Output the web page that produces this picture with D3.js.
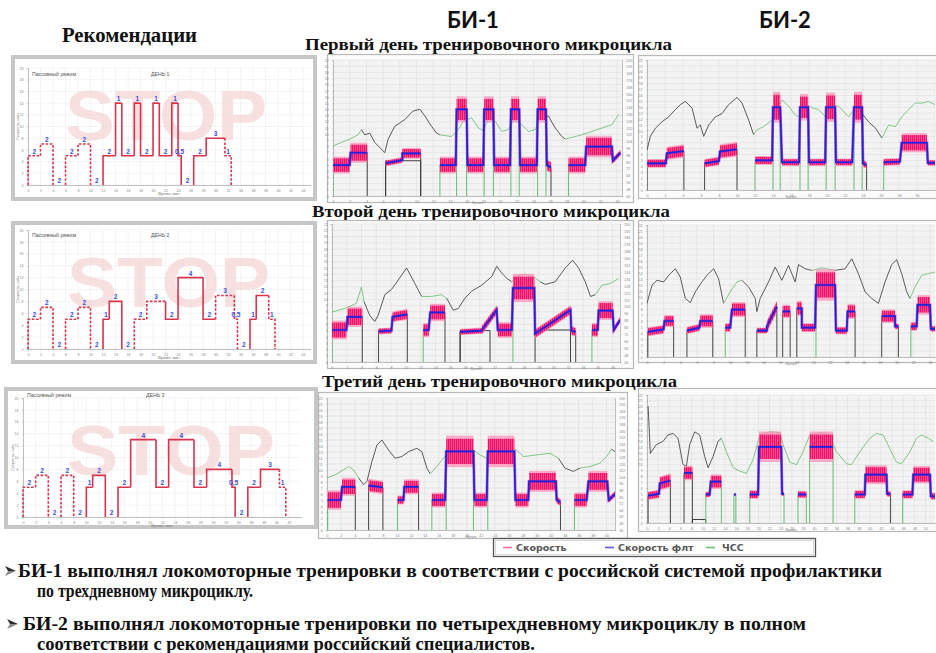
<!DOCTYPE html>
<html><head><meta charset="utf-8">
<script src="https://cdn.jsdelivr.net/npm/d3@7"></script>
<style>body{margin:0;background:#fff}svg{display:block}</style>
</head><body><svg id="c" width="936" height="653"></svg>
<script>
// ---------- Recommended protocol: [start, end (min), speed km/h, duration label, line style d=dashed s=solid] ----------
const recDay1 = [
  [0, 2, 5, '2', 'd'], [2, 4, 7, '2', 'd'], [4, 6, 0, '2', ''],
  [6, 8, 5, '2', 'd'], [8, 10, 7, '2', 'd'], [10, 12, 0, '2', ''],
  [12, 14, 5, '2', 's'], [14, 15, 14, '1', 's'], [15, 17, 5, '2', 's'], [17, 18, 14, '1', 's'],
  [18, 20, 5, '2', 's'], [20, 21, 14, '1', 's'], [21, 23, 5, '2', 's'], [23, 24, 14, '1', 's'],
  [24, 24.5, 5, '0,5', 's'], [24.5, 26.5, 0, '2', ''],
  [26.5, 28.5, 5, '2', 's'], [28.5, 31.5, 8, '3', 's'], [31.5, 32.5, 5, '1', 'd']
];
const recDay2 = [
  [0, 2, 5, '2', 'd'], [2, 4, 7, '2', 'd'], [4, 6, 0, '2', ''],
  [6, 8, 5, '2', 'd'], [8, 10, 7, '2', 'd'], [10, 12, 0, '2', ''],
  [12, 13, 5, '1', 's'], [13, 15, 8, '2', 's'], [15, 17, 0, '2', ''],
  [17, 19, 5, '2', 'd'], [19, 22, 8, '3', 'd'], [22, 24, 5, '2', 's'], [24, 28, 12, '4', 's'],
  [28, 30, 5, '2', 's'], [30, 33, 9, '3', 'd'], [33, 33.5, 5, '0,5', 'd'], [33.5, 35.5, 0, '2', ''],
  [35.5, 36.5, 5, '1', 's'], [36.5, 38.5, 9, '2', 's'], [38.5, 39.5, 5, '1', 'd']
];
const recDay3 = [
  [0, 2, 5, '2', 'd'], [2, 4, 7, '2', 'd'], [4, 6, 0, '2', ''],
  [6, 8, 7, '2', 'd'], [8, 10, 0, '2', ''],
  [10, 11, 5, '1', 's'], [11, 13, 7, '2', 's'], [13, 15, 0, '2', ''],
  [15, 17, 5, '2', 's'], [17, 21, 13, '4', 's'], [21, 23, 5, '2', 's'], [23, 27, 13, '4', 's'],
  [27, 29, 5, '2', 's'], [29, 33, 8, '4', 's'], [33, 33.5, 5, '0,5', 's'], [33.5, 35.5, 0, '2', ''],
  [35.5, 37.5, 5, '2', 's'], [37.5, 40.5, 8, '3', 's'], [40.5, 41.5, 5, '1', 'd']
];

// ---------- Treadmill speed: [t0, t1 (min), v0, v1 (km/h), spread of raw speed, edge at start, edge at end] ----------
const bi1Day1Speed = [
  [0, 2.0, 5.0, 5.0, 1.1, 'g', ''], [2.1, 4.1, 7.0, 7.0, 1.3, '', 'k'],
  [6.3, 8.3, 5.3, 5.8, 0.4, 'k', ''], [8.3, 10.5, 6.9, 6.9, 0.7, '', 'k'],
  [12.8, 14.7, 5.0, 5.0, 1.1, 'g', ''], [14.8, 16.0, 14.0, 14.0, 1.7, 'g', 'g'],
  [16.1, 18.0, 5.0, 5.0, 1.1, '', ''], [18.1, 19.2, 14.0, 14.0, 1.7, 'g', 'g'],
  [19.3, 21.2, 5.0, 5.0, 1.1, '', ''], [21.3, 22.3, 14.0, 14.0, 1.7, 'g', 'g'],
  [22.4, 24.4, 5.0, 5.0, 1.1, '', ''], [24.5, 25.5, 14.0, 14.0, 1.7, 'g', 'g'],
  [25.6, 26.1, 5.0, 4.6, 0.8, '', 'k'],
  [28.2, 30.2, 5.0, 5.0, 1.1, 'g', ''], [30.3, 33.4, 8.0, 8.0, 1.4, '', ''],
  [33.5, 34.4, 5.7, 7.0, 0.4, '', '']
];
const bi1Day1Ref = [[6.3, 10.5, 5.7]];
const bi1Day1Hr = [
  [0, 99, 'g'], [1, 103, 'g'], [2, 107, 'g'], [3, 112, 'g'], [3.4, 118, 'k'], [3.8, 112, 'k'],
  [4.4, 114, 'k'], [5.0, 103, 'k'], [5.8, 95, 'k'], [6.2, 91, 'k'], [6.6, 107, 'k'], [7.4, 122, 'k'],
  [8.6, 130, 'k'], [9.6, 140, 'k'], [10.4, 142, 'k'], [11.0, 134, 'k'], [11.8, 122, 'k'], [12.4, 114, 'k'],
  [12.8, 112, 'g'], [14.2, 110, 'g'], [15.0, 118, 'g'], [15.6, 128, 'g'], [16.6, 132, 'g'], [17.4, 120, 'g'],
  [18.0, 117, 'g'], [18.6, 131, 'g'], [19.4, 128, 'g'], [20.2, 116, 'g'], [21.0, 118, 'g'], [21.6, 130, 'g'],
  [22.6, 124, 'g'], [23.4, 116, 'g'], [24.2, 118, 'g'], [24.8, 132, 'k'], [25.8, 134, 'k'], [26.6, 120, 'k'],
  [27.4, 110, 'k'], [27.8, 107, 'g'], [28.6, 109, 'g'], [29.8, 112, 'g'], [31.0, 116, 'g'], [32.2, 120, 'g'],
  [33.4, 124, 'g'], [34.2, 136, 'g']
];

const bi2Day1Speed = [
  [0, 2.1, 4.5, 4.5, 0.6, 'k', ''], [2.2, 4.1, 6.2, 6.6, 0.9, '', 'k'],
  [6.4, 8.0, 4.5, 4.9, 0.6, 'k', ''], [8.1, 10.0, 6.5, 6.9, 1.0, '', 'k'],
  [12.0, 13.9, 5.0, 5.0, 0.6, 'g', ''], [14.0, 14.8, 14.0, 14.0, 2.1, 'g', 'g'],
  [15.0, 16.9, 4.7, 4.7, 0.5, '', ''], [17.0, 17.9, 14.0, 14.0, 1.8, 'g', 'g'],
  [18.0, 19.8, 4.7, 4.7, 0.5, '', ''], [19.9, 20.9, 14.0, 14.0, 2.0, 'g', 'g'],
  [21.0, 22.8, 4.7, 4.7, 0.5, '', ''], [23.0, 23.9, 14.0, 14.0, 2.1, 'g', 'g'],
  [24.0, 24.4, 4.5, 4.2, 0.5, '', 'k'],
  [26.3, 28.1, 4.7, 4.8, 0.5, 'g', ''], [28.3, 31.1, 8.0, 8.0, 1.3, '', ''],
  [31.2, 32.0, 4.6, 4.6, 0.4, '', '']
];
const bi2Day1Ref = [];
const bi2Day1Hr = [
  [0, 89, 'k'], [0.37, 106, 'k'], [0.93, 116, 'k'], [1.67, 124, 'k'], [2.41, 130, 'k'], [3.15, 139, 'k'],
  [3.7, 145, 'k'], [4.26, 149, 'k'], [5.0, 141, 'k'], [5.56, 116, 'k'], [5.93, 120, 'k'], [6.3, 106, 'k'],
  [6.85, 120, 'k'], [7.6, 130, 'k'], [8.33, 134, 'k'], [9.07, 145, 'k'], [10.0, 154, 'k'], [10.56, 147, 'k'],
  [11.3, 126, 'k'], [11.85, 108, 'g'], [12.2, 114, 'g'], [12.96, 118, 'g'], [13.9, 126, 'g'], [15.0, 151, 'g'],
  [15.74, 143, 'g'], [16.48, 132, 'g'], [17.04, 130, 'g'], [17.6, 147, 'g'], [18.33, 141, 'g'], [19.07, 139, 'g'],
  [20.0, 128, 'g'], [20.56, 145, 'g'], [21.3, 143, 'g'], [22.4, 130, 'g'], [23.15, 141, 'g'], [23.9, 134, 'k'],
  [24.6, 124, 'k'], [25.4, 116, 'k'], [26.1, 104, 'g'], [26.85, 120, 'g'], [27.6, 118, 'g'], [28.3, 130, 'g'],
  [29.07, 139, 'g'], [29.8, 147, 'g'], [30.56, 147, 'g'], [31.3, 149, 'g'], [32.0, 145, 'g']
];

const bi1Day2Speed = [
  [0, 1.95, 5.1, 5.1, 1.2, 'g', ''], [2.1, 4.1, 7.2, 7.2, 1.3, '', 'k'],
  [6.3, 8.05, 4.9, 5.0, 0.4, 'k', ''], [8.2, 10.2, 7.2, 7.6, 0.7, '', 'k'],
  [12.35, 13.1, 5.1, 5.1, 0.9, 'g', ''], [13.3, 15.3, 7.9, 7.9, 1.1, '', 'k'],
  [17.35, 20.3, 4.8, 5.0, 0.4, 'k', ''], [20.3, 22.3, 5.1, 8.3, 0.6, '', ''],
  [22.45, 24.35, 5.1, 5.1, 1.0, '', ''], [24.5, 27.4, 11.8, 11.8, 1.8, 'g', ''],
  [27.5, 32.3, 4.5, 8.3, 0.6, '', ''], [32.4, 33.0, 5.0, 4.8, 0.6, '', 'k'],
  [35.2, 36.0, 5.1, 5.1, 0.9, 'g', ''], [36.1, 38.0, 8.2, 8.2, 1.2, '', ''],
  [38.15, 39.0, 5.1, 6.7, 0.4, '', '']
];
const bi1Day2Ref = [[17.35, 21.4, 5.0], [27.5, 32.3, 5.1]];
const bi1Day2Hr = [
  [0, 98, 'g'], [1.72, 102, 'g'], [3.3, 108, 'g'], [3.98, 127, 'g'], [4.34, 110, 'k'], [5.11, 94, 'k'],
  [5.79, 87, 'k'], [6.24, 94, 'k'], [7.15, 118, 'k'], [8.05, 124, 'k'], [8.96, 135, 'k'], [10.1, 149, 'k'],
  [11.22, 131, 'k'], [12.13, 116, 'g'], [13.48, 116, 'g'], [14.84, 118, 'g'], [15.52, 114, 'k'], [16.43, 100, 'k'],
  [17.1, 102, 'k'], [18.0, 114, 'k'], [18.9, 122, 'k'], [20.27, 129, 'k'], [21.63, 139, 'k'], [22.31, 151, 'k'],
  [23.0, 143, 'k'], [23.67, 137, 'k'], [24.34, 133, 'g'], [25.25, 140, 'g'], [26.15, 142, 'g'], [27.42, 138, 'g'],
  [28.2, 133, 'k'], [28.87, 130, 'k'], [30.23, 133, 'k'], [31.58, 149, 'k'], [32.58, 158, 'k'], [33.4, 149, 'k'],
  [34.3, 133, 'k'], [35.0, 116, 'k'], [35.66, 118, 'g'], [36.56, 129, 'g'], [37.7, 131, 'g'], [38.82, 137, 'g']
];

const bi2Day2Speed = [
  [0.1, 2.0, 4.2, 4.6, 0.6, 'k', ''], [2.1, 3.2, 6.0, 6.0, 0.8, '', 'k'],
  [4.8, 6.3, 4.4, 4.9, 0.5, 'k', ''], [6.4, 7.9, 6.0, 6.0, 0.9, '', 'k'],
  [9.4, 10.0, 4.9, 4.9, 0.6, 'g', ''], [10.2, 11.8, 7.9, 7.9, 1.0, '', 'k'],
  [13.2, 14.4, 4.4, 4.4, 0.4, 'k', ''], [14.4, 15.6, 5.1, 8.4, 0.8, '', 'k'],
  [16.3, 17.2, 7.6, 7.6, 0.9, 'k', 'k'], [18.0, 18.6, 8.1, 8.1, 1.0, 'k', ''],
  [18.6, 20.2, 4.9, 4.9, 0.6, '', ''], [20.3, 22.6, 12.0, 12.0, 2.1, 'g', ''],
  [22.7, 24.0, 4.4, 4.4, 0.5, '', ''], [24.1, 25.0, 7.6, 7.6, 1.0, '', 'k'],
  [28.2, 29.8, 6.8, 6.8, 0.9, 'k', ''], [29.8, 30.2, 5.1, 5.1, 0.4, '', 'k'],
  [31.7, 32.4, 5.1, 5.1, 0.6, 'g', ''], [32.5, 34.0, 8.7, 8.7, 1.3, '', ''],
  [34.1, 34.6, 4.7, 4.7, 0.4, '', '']
];
const bi2Day2Ref = [];
const bi2Day2Hr = [
  [0, 105, 'k'], [0.6, 127, 'k'], [1.2, 133, 'k'], [2.0, 131, 'k'], [2.6, 139, 'k'], [3.4, 147, 'k'],
  [4.0, 137, 'k'], [4.6, 111, 'k'], [5.2, 106, 'k'], [5.8, 119, 'k'], [6.6, 131, 'k'], [7.2, 139, 'k'],
  [8.0, 147, 'k'], [8.6, 135, 'k'], [9.2, 105, 'g'], [10.0, 119, 'g'], [10.8, 131, 'g'], [11.4, 133, 'k'],
  [12.2, 125, 'k'], [13.0, 111, 'k'], [13.2, 95, 'k'], [13.6, 111, 'k'], [14.6, 131, 'k'], [15.4, 149, 'k'],
  [16.2, 133, 'k'], [17.0, 151, 'k'], [17.8, 131, 'k'], [18.2, 152, 'k'], [19.0, 147, 'k'], [19.8, 145, 'g'],
  [21.0, 148, 'g'], [22.6, 145, 'k'], [23.8, 147, 'k'], [24.6, 159, 'k'], [25.4, 141, 'k'], [26.2, 119, 'k'],
  [27.0, 111, 'k'], [27.8, 105, 'k'], [28.6, 131, 'k'], [29.4, 152, 'k'], [30.0, 158, 'k'], [30.6, 141, 'k'],
  [31.2, 119, 'k'], [31.6, 111, 'g'], [32.2, 125, 'g'], [33.0, 139, 'g'], [33.8, 141, 'g'], [34.6, 143, 'g']
];

const bi1Day3Speed = [
  [0.1, 2.0, 5.0, 5.0, 1.3, 'g', ''], [2.15, 4.05, 7.2, 7.2, 1.2, '', 'k'],
  [5.95, 8.0, 7.4, 7.1, 0.9, 'k', 'k'],
  [10.1, 10.95, 5.0, 5.0, 0.6, 'g', ''], [11.05, 13.1, 7.2, 7.2, 1.0, '', 'k'],
  [15.0, 16.9, 5.0, 5.0, 1.0, 'g', ''], [17.05, 20.95, 13.1, 13.1, 2.1, 'g', 'g'],
  [21.1, 22.85, 5.0, 5.0, 1.0, '', ''], [23.0, 26.8, 13.1, 13.1, 2.1, 'g', ''],
  [26.95, 28.8, 5.0, 5.0, 1.0, '', ''], [28.9, 32.75, 8.1, 8.1, 1.4, '', ''],
  [32.85, 33.4, 5.0, 4.6, 0.5, '', 'k'],
  [35.4, 37.15, 5.0, 5.0, 1.0, 'g', ''], [37.4, 40.1, 8.1, 8.1, 1.4, '', ''],
  [40.3, 41.2, 5.0, 6.0, 0.4, '', '']
];
const bi1Day3Ref = [];
const bi1Day3Hr = [
  [0, 103, 'g'], [1.19, 107, 'g'], [2.38, 113, 'g'], [3.1, 117, 'g'], [3.8, 113, 'g'], [4.52, 103, 'k'],
  [5.24, 95, 'k'], [5.71, 99, 'k'], [6.43, 123, 'k'], [7.14, 143, 'k'], [7.86, 149, 'k'], [8.81, 137, 'k'],
  [9.76, 127, 'k'], [10.7, 129, 'k'], [11.67, 135, 'k'], [12.86, 139, 'k'], [13.57, 135, 'k'], [14.29, 115, 'k'],
  [14.76, 108, 'g'], [15.71, 117, 'g'], [16.67, 127, 'g'], [17.62, 137, 'g'], [20.95, 137, 'g'], [21.9, 131, 'g'],
  [22.86, 127, 'g'], [26.8, 139, 'g'], [28.1, 129, 'g'], [30.0, 131, 'g'], [31.9, 133, 'g'], [33.1, 127, 'k'],
  [34.05, 115, 'k'], [35.24, 111, 'k'], [36.19, 115, 'g'], [37.62, 117, 'g'], [39.05, 121, 'g'], [40.0, 129, 'g'],
  [40.71, 138, 'k'], [41.2, 135, 'k']
];

const bi2Day3Speed = [
  [0.2, 2.15, 4.7, 5.0, 0.6, 'k', ''], [2.3, 4.2, 6.8, 7.3, 1.0, '', 'k'],
  [6.65, 8.15, 8.6, 8.6, 1.0, 'k', 'k'],
  [10.55, 11.25, 4.9, 4.9, 0.4, 'g', ''], [11.45, 13.35, 7.1, 7.1, 1.0, '', 'g'],
  [15.6, 15.95, 4.9, 4.9, 0, 'g', 'g'],
  [18.45, 19.95, 4.9, 4.9, 0.6, 'g', ''], [20.1, 24.1, 13.1, 13.1, 2.1, '', ''],
  [24.25, 24.6, 5.0, 5.0, 0.3, '', 'g'],
  [27.1, 28.6, 4.9, 4.9, 0.5, 'g', 'g'], [29.2, 33.4, 13.1, 13.1, 2.1, 'g', 'g'],
  [37.3, 39.1, 4.9, 4.9, 0.6, 'g', ''], [39.2, 43.0, 8.3, 8.3, 1.3, '', ''],
  [43.1, 43.7, 5.0, 5.0, 0.4, '', 'k'],
  [45.9, 47.65, 4.9, 4.9, 0.6, 'g', ''], [47.8, 50.8, 8.3, 8.3, 1.2, '', ''],
  [50.95, 51.7, 4.6, 4.6, 0.5, '', '']
];
const bi2Day3Ref = [[8.15, 10.55, 0.6]];
const bi2Day3Hr = [
  [0.2, 186, 'k'], [0.6, 127, 'k'], [1.68, 138, 'k'], [2.87, 142, 'k'], [3.77, 150, 'k'], [4.67, 152, 'k'],
  [5.57, 146, 'k'], [6.47, 113, 'k'], [7.07, 111, 'k'], [7.66, 138, 'k'], [8.56, 154, 'k'], [9.46, 150, 'k'],
  [10.36, 123, 'k'], [10.96, 109, 'k'], [11.86, 123, 'k'], [12.75, 142, 'k'], [13.35, 146, 'g'], [14.25, 129, 'g'],
  [15.45, 109, 'g'], [16.65, 105, 'g'], [17.84, 102, 'g'], [19.04, 119, 'g'], [20.24, 150, 'g'], [22.04, 154, 'g'],
  [23.83, 153, 'g'], [24.43, 138, 'g'], [25.63, 116, 'g'], [26.83, 113, 'g'], [28.02, 129, 'g'], [29.22, 150, 'g'],
  [31.02, 153, 'g'], [32.81, 150, 'g'], [34.0, 129, 'g'], [35.81, 114, 'g'], [36.71, 113, 'g'], [38.2, 129, 'g'],
  [40.0, 146, 'g'], [41.2, 152, 'g'], [42.4, 150, 'g'], [43.59, 133, 'g'], [44.79, 116, 'g'], [45.69, 114, 'g'],
  [47.19, 129, 'g'], [48.38, 146, 'g'], [49.28, 150, 'g'], [50.48, 146, 'g'], [51.38, 142, 'k']
];

const legendLabels = ['Скорость', 'Скорость флт', 'ЧСС'];

// ---------- Drawing ----------
const svg = d3.select('#c');
const defs = svg.append('defs');
const pat = defs.append('pattern').attr('id', 'rawSpeed').attr('patternUnits', 'userSpaceOnUse')
  .attr('width', 2).attr('height', 6);
pat.append('rect').attr('width', 2).attr('height', 6).attr('fill', '#ff2c7c');
pat.append('rect').attr('width', 0.8).attr('height', 6).attr('fill', '#ec0a62');
pat.append('rect').attr('x', 1.4).attr('width', 0.5).attr('height', 6).attr('fill', '#ff6fa6');

const RED = '#d8344f', BLUE_LBL = '#3b4fd6';
const tinyAxis = (sel) => {
  sel.selectAll('text').attr('font-size', 3.6).attr('fill', '#888').attr('font-family', 'Liberation Sans');
  sel.selectAll('.domain').attr('stroke', '#9a9a9a').attr('stroke-width', 0.6);
  sel.selectAll('.tick line').attr('stroke', '#aaa').attr('stroke-width', 0.4);
};

function recPanel(fr, pl, xMax, segs, dayText, headY, stop) {
  const g = svg.append('g');
  g.append('rect').attr('x', fr[0]).attr('y', fr[1]).attr('width', fr[2]).attr('height', fr[3]).attr('fill', '#c6c6c6');
  g.append('rect').attr('x', fr[0] + 4).attr('y', fr[1] + 4).attr('width', fr[2] - 8).attr('height', fr[3] - 8)
    .attr('fill', '#fff');
  const x = d3.scaleLinear().domain([0, xMax]).range([pl[0], pl[0] + pl[2]]);
  const y = d3.scaleLinear().domain([0, 20]).range([pl[1] + pl[3], pl[1]]);

  // watermark
  g.append('text').attr('x', stop[0]).attr('y', stop[1]).attr('textLength', stop[2])
    .attr('lengthAdjust', 'spacingAndGlyphs').attr('font-family', 'Liberation Sans').attr('font-weight', 'bold')
    .attr('font-size', 70).attr('fill', '#f9e0e0').text('STOP');

  // grid
  g.append('g').selectAll('line').data(d3.range(0, xMax + 0.01, 2)).join('line')
    .attr('x1', d => x(d)).attr('x2', d => x(d)).attr('y1', y(20)).attr('y2', y(0))
    .attr('stroke', '#dcdcdc').attr('stroke-width', 0.5).attr('stroke-dasharray', '1.5,1');
  g.append('g').selectAll('line').data(d3.range(0, 20.01, 2)).join('line')
    .attr('x1', x(0)).attr('x2', x(xMax)).attr('y1', d => y(d)).attr('y2', d => y(d))
    .attr('stroke', '#dcdcdc').attr('stroke-width', 0.5).attr('stroke-dasharray', '1.5,1');

  g.append('g').attr('transform', `translate(0,${y(0)})`)
    .call(d3.axisBottom(x).tickValues(d3.range(0, xMax + 0.01, 2)).tickSize(1.5).tickFormat(d3.format('d')))
    .call(tinyAxis);
  g.append('g').attr('transform', `translate(${x(0)},0)`)
    .call(d3.axisLeft(y).tickValues(d3.range(0, 20.01, 2)).tickSize(1.5).tickFormat(d3.format('d')))
    .call(tinyAxis);
  g.append('text').attr('x', x(xMax / 2)).attr('y', y(0) + 10).attr('text-anchor', 'middle')
    .attr('font-family', 'Liberation Sans').attr('font-size', 4).attr('fill', '#777').text('Время, мин');
  g.append('text').attr('transform', `translate(${x(0) - 9},${y(10)}) rotate(-90)`).attr('text-anchor', 'middle')
    .attr('font-family', 'Liberation Sans').attr('font-size', 4).attr('fill', '#777').text('Скорость, км/ч');

  g.append('text').attr('x', pl[0] + 4).attr('y', headY).attr('font-family', 'Liberation Sans')
    .attr('font-size', 5.2).attr('fill', '#555').text('Пассивный режим');
  g.append('text').attr('x', pl[0] + 123).attr('y', headY).attr('font-family', 'Liberation Sans')
    .attr('font-size', 5.2).attr('fill', '#555').text(dayText);

  // prescribed steps
  segs.forEach((s, i) => {
    const [t0, t1, v, lbl, st] = s;
    if (v > 0) {
      const prev = i > 0 ? segs[i - 1][2] : 0;
      const next = i < segs.length - 1 ? segs[i + 1][2] : 0;
      const p = d3.path();
      p.moveTo(x(t0), y(prev)); p.lineTo(x(t0), y(v)); p.lineTo(x(t1), y(v));
      if (next === 0) p.lineTo(x(t1), y(0));
      g.append('path').attr('d', p.toString()).attr('fill', 'none').attr('stroke', RED)
        .attr('stroke-width', 1.6).attr('stroke-dasharray', st === 'd' ? '2.6,1.6' : null);
    }
  });
  g.append('g').selectAll('text').data(segs).join('text')
    .attr('x', d => x((d[0] + d[1]) / 2)).attr('y', d => y(d[2]) - 2)
    .attr('text-anchor', 'middle').attr('font-family', 'Liberation Sans').attr('font-weight', 'bold')
    .attr('font-size', 6.5).attr('fill', BLUE_LBL).text(d => d[3]);
}

function telePanel(fr, pl, xMax, segs, hr, refs, rightAxis) {
  const g = svg.append('g');
  g.append('rect').attr('x', fr[0] + 0.5).attr('y', fr[1] + 0.5).attr('width', fr[2]).attr('height', fr[3])
    .attr('fill', '#fbfbfb').attr('stroke', '#b9b9b9').attr('stroke-width', 1.2);
  g.append('rect').attr('x', pl[0]).attr('y', pl[1]).attr('width', pl[2]).attr('height', pl[3]).attr('fill', '#f3f3f3');
  const x = d3.scaleLinear().domain([0, xMax]).range([pl[0], pl[0] + pl[2]]);
  const yS = d3.scaleLinear().domain([0, 22]).range([pl[1] + pl[3], pl[1]]);
  const yH = d3.scaleLinear().domain([40, 200]).range([pl[1] + pl[3], pl[1]]);
  const clipId = 'clip' + Math.round(pl[0]) + '_' + Math.round(pl[1]);
  defs.append('clipPath').attr('id', clipId).append('rect')
    .attr('x', pl[0]).attr('y', pl[1] - 2).attr('width', pl[2]).attr('height', pl[3] + 2);

  g.append('g').selectAll('line').data(d3.range(0, 22.01, 1)).join('line')
    .attr('x1', pl[0]).attr('x2', pl[0] + pl[2]).attr('y1', d => yS(d)).attr('y2', d => yS(d))
    .attr('stroke', '#d9d9d9').attr('stroke-width', 0.5);
  g.append('g').selectAll('line').data(d3.range(0, xMax + 0.01, 2)).join('line')
    .attr('x1', d => x(d)).attr('x2', d => x(d)).attr('y1', pl[1]).attr('y2', pl[1] + pl[3])
    .attr('stroke', '#d9d9d9').attr('stroke-width', 0.5);

  g.append('g').attr('transform', `translate(${pl[0]},0)`)
    .call(d3.axisLeft(yS).tickValues(d3.range(0, 22.01, 1)).tickSize(1.2).tickFormat(d3.format('d'))).call(tinyAxis);
  if (rightAxis) {
    g.append('g').attr('transform', `translate(${pl[0] + pl[2]},0)`)
      .call(d3.axisRight(yH).tickValues(d3.range(40, 200.1, 8)).tickSize(1.2).tickFormat(d3.format('d'))).call(tinyAxis);
  }
  g.append('g').attr('transform', `translate(0,${pl[1] + pl[3]})`)
    .call(d3.axisBottom(x).tickValues(d3.range(0, xMax - 0.5, 2)).tickSize(1.2).tickFormat(d3.format('d'))).call(tinyAxis);
  g.append('text').attr('x', x(xMax / 2)).attr('y', pl[1] + pl[3] + 7.5).attr('text-anchor', 'middle')
    .attr('font-family', 'Liberation Sans').attr('font-size', 3.6).attr('fill', '#888').text('Время');

  const body = g.append('g').attr('clip-path', `url(#${clipId})`);

  // heart rate, coloured by run
  const runs = [];
  let cur = null;
  for (let i = 0; i < hr.length - 1; i++) {
    const c = hr[i][2];
    if (!cur || cur.c !== c) { cur = { c, pts: [hr[i]] }; runs.push(cur); }
    cur.pts.push(hr[i + 1]);
  }
  const hrLine = d3.line().x(d => x(d[0])).y(d => yH(d[1])).curve(d3.curveLinear);
  body.selectAll('path.hr').data(runs).join('path').attr('class', 'hr')
    .attr('d', d => hrLine(d.pts)).attr('fill', 'none')
    .attr('stroke', d => d.c === 'g' ? '#74c27a' : '#4a4a4a').attr('stroke-width', 0.9);

  // reference speed outline
  body.selectAll('path.ref').data(refs).join('path').attr('class', 'ref')
    .attr('d', d => `M${x(d[0])},${yS(0)}V${yS(d[2])}H${x(d[1])}V${yS(0)}`)
    .attr('fill', 'none').attr('stroke', '#2a2a2a').attr('stroke-width', 0.9);

  // start / stop edges
  const edges = [];
  segs.forEach(s => {
    if (s[5]) edges.push([s[0], s[2], s[5]]);
    if (s[6]) edges.push([s[1], s[3], s[6]]);
  });
  body.selectAll('line.edge').data(edges).join('line').attr('class', 'edge')
    .attr('x1', d => x(d[0])).attr('x2', d => x(d[0])).attr('y1', yS(0)).attr('y2', d => yS(d[1]))
    .attr('stroke', d => d[2] === 'g' ? '#55b868' : '#333').attr('stroke-width', 0.9);

  // raw speed bands
  const band = (s, k) => {
    const [t0, t1, v0, v1, sp] = s;
    return `M${x(t0)},${yS(v0 - sp * k)}L${x(t1)},${yS(v1 - sp * k)}L${x(t1)},${yS(v1 + sp * k)}L${x(t0)},${yS(v0 + sp * k)}Z`;
  };
  const banded = segs.filter(s => s[4] > 0);
  body.selectAll('path.halo').data(banded).join('path').attr('class', 'halo')
    .attr('d', d => band(d, 1.25)).attr('fill', '#ff8ab5').attr('opacity', 0.7);
  body.selectAll('path.raw').data(banded).join('path').attr('class', 'raw')
    .attr('d', d => band(d, 1)).attr('fill', 'url(#rawSpeed)');

  // filtered speed
  const p = d3.path();
  segs.forEach((s, i) => {
    const prev = segs[i - 1];
    if (prev && s[0] - prev[1] <= 0.3) p.lineTo(x(s[0]), yS(s[2]));
    else p.moveTo(x(s[0]), yS(s[2]));
    p.lineTo(x(s[1]), yS(s[3]));
  });
  body.append('path').attr('d', p.toString()).attr('fill', 'none').attr('stroke', '#9a1fbf')
    .attr('stroke-width', 2.8).attr('opacity', 0.65);
  body.append('path').attr('d', p.toString()).attr('fill', 'none').attr('stroke', '#2222d8')
    .attr('stroke-width', 1.7);
}

// ---------- Headings ----------
const serifBold = (txt, x, y, size, len) => svg.append('text').attr('x', x).attr('y', y)
  .attr('font-family', 'Liberation Serif').attr('font-weight', 'bold').attr('font-size', size)
  .attr('textLength', len).attr('lengthAdjust', 'spacingAndGlyphs').attr('fill', '#111').text(txt);

serifBold('Рекомендации', 62, 42, 20, 135);
svg.append('text').attr('x', 473).attr('y', 28).attr('text-anchor', 'middle').attr('font-family', 'Lato')
  .attr('font-weight', 'bold').attr('font-size', 22).attr('fill', '#111').text('БИ-1');
svg.append('text').attr('x', 785).attr('y', 28).attr('text-anchor', 'middle').attr('font-family', 'Lato')
  .attr('font-weight', 'bold').attr('font-size', 22).attr('fill', '#111').text('БИ-2');
serifBold('Первый день тренировочного микроцикла', 305, 50, 17, 367);
serifBold('Второй день тренировочного микроцикла', 312, 217, 17, 358);
serifBold('Третий день тренировочного микроцикла', 322, 387, 17, 355);

// ---------- Panels ----------
recPanel([11, 55, 306, 146], [28, 68, 282, 117], 45.1, recDay1, 'ДЕНЬ 1', 76, [65, 140, 202]);
recPanel([11, 221, 306, 143], [28, 230, 282, 119], 45.1, recDay2, 'ДЕНЬ 2', 237, [67, 307, 203]);
recPanel([4, 387, 314, 142], [23, 398, 278, 119], 43.9, recDay3, 'ДЕНЬ 3', 397, [67, 475, 208]);

telePanel([327, 54, 306, 148], [333, 60, 289, 136], 34.6, bi1Day1Speed, bi1Day1Hr, bi1Day1Ref, true);
telePanel([638, 55, 300, 143], [647, 60, 288, 130], 32, bi2Day1Speed, bi2Day1Hr, bi2Day1Ref, false);
telePanel([327, 220, 306, 148], [332, 224, 288, 138], 39, bi1Day2Speed, bi1Day2Hr, bi1Day2Ref, true);
telePanel([638, 220, 300, 142], [647, 225, 288, 132], 34.6, bi2Day2Speed, bi2Day2Hr, bi2Day2Ref, false);
telePanel([318, 392, 309, 146], [327, 398, 288, 132], 41.2, bi1Day3Speed, bi1Day3Hr, bi1Day3Ref, true);
telePanel([638, 388, 300, 143], [647, 395, 288, 128], 51.7, bi2Day3Speed, bi2Day3Hr, bi2Day3Ref, false);

// ---------- Legend ----------
const lg = svg.append('g');
lg.append('rect').attr('x', 493.5).attr('y', 538.5).attr('width', 322).attr('height', 18)
  .attr('fill', '#fff').attr('stroke', '#555').attr('stroke-width', 1.3);
lg.append('rect').attr('x', 495.5).attr('y', 540.5).attr('width', 318).attr('height', 14)
  .attr('fill', 'none').attr('stroke', '#d0d0d0').attr('stroke-width', 0.8);
const legendColors = ['#ff6d9c', '#5b5bd0', '#6dbf72'];
const legendX = [503, 605, 706];
legendLabels.forEach((t, i) => {
  lg.append('line').attr('x1', legendX[i]).attr('x2', legendX[i] + 9).attr('y1', 547.5).attr('y2', 547.5)
    .attr('stroke', legendColors[i]).attr('stroke-width', 1.6);
  lg.append('text').attr('x', legendX[i] + (i === 2 ? 16 : 13)).attr('y', 551).attr('font-family', 'DejaVu Sans')
    .attr('font-weight', 'bold').attr('font-size', 9.5).attr('fill', '#555').text(t);
});

// ---------- Notes with arrow bullets ----------
const bullet = (x, cy) => {
  const b = svg.append('g');
  b.append('path').attr('d', `M${x},${cy - 5}L${x + 11},${cy}L${x + 3},${cy}Z`).attr('fill', '#2b2b2b');
  b.append('path').attr('d', `M${x},${cy + 5}L${x + 11},${cy}L${x + 3},${cy}Z`).attr('fill', '#8a8a8a');
};
const note = (bx, txt, x, y, len) => {
  if (bx !== null) bullet(bx, y - 6);
  serifBold(txt, x, y, 18, len);
};
note(5, 'БИ-1 выполнял локомоторные тренировки в соответствии с российской системой профилактики', 18, 577, 864);
note(null, 'по трехдневному микроциклу.', 37, 597, 216);
note(7, 'БИ-2 выполнял локомоторные тренировки по четырехдневному микроциклу в полном', 23, 630, 783);
note(null, 'соответствии с рекомендациями российский специалистов.', 37, 650, 498);
</script></body></html>
